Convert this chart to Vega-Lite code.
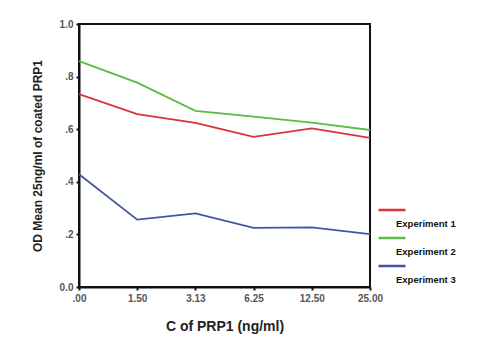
{
  "$schema": "https://vega.github.io/schema/vega-lite/v6.json",
  "autosize": "none",
  "width": 291,
  "height": 263,
  "padding": {"left": 79, "top": 24, "right": 118, "bottom": 56},
  "background": "white",
  "config": {
    "view": {"stroke": "#111", "strokeWidth": 2},
    "font": "Liberation Sans"
  },
  "data": {
    "values": [
      {"c": ".00", "od": 0.733, "exp": "Experiment 1"},
      {"c": "1.50", "od": 0.657, "exp": "Experiment 1"},
      {"c": "3.13", "od": 0.624, "exp": "Experiment 1"},
      {"c": "6.25", "od": 0.571, "exp": "Experiment 1"},
      {"c": "12.50", "od": 0.603, "exp": "Experiment 1"},
      {"c": "25.00", "od": 0.567, "exp": "Experiment 1"},
      {"c": ".00", "od": 0.859, "exp": "Experiment 2"},
      {"c": "1.50", "od": 0.777, "exp": "Experiment 2"},
      {"c": "3.13", "od": 0.670, "exp": "Experiment 2"},
      {"c": "6.25", "od": 0.648, "exp": "Experiment 2"},
      {"c": "12.50", "od": 0.625, "exp": "Experiment 2"},
      {"c": "25.00", "od": 0.597, "exp": "Experiment 2"},
      {"c": ".00", "od": 0.429, "exp": "Experiment 3"},
      {"c": "1.50", "od": 0.256, "exp": "Experiment 3"},
      {"c": "3.13", "od": 0.280, "exp": "Experiment 3"},
      {"c": "6.25", "od": 0.225, "exp": "Experiment 3"},
      {"c": "12.50", "od": 0.227, "exp": "Experiment 3"},
      {"c": "25.00", "od": 0.201, "exp": "Experiment 3"}
    ]
  },
  "mark": {"type": "line", "strokeWidth": 1.8},
  "encoding": {
    "x": {
      "field": "c",
      "type": "ordinal",
      "sort": [".00", "1.50", "3.13", "6.25", "12.50", "25.00"],
      "scale": {"type": "point", "padding": 0},
      "axis": {
        "title": "C of PRP1 (ng/ml)",
        "titleFont": "Liberation Sans",
        "titleFontSize": 14,
        "titleFontWeight": "bold",
        "titleColor": "#222",
        "titlePadding": 16,
        "labelAngle": 0,
        "labelFontSize": 10,
        "labelFontWeight": "bold",
        "labelColor": "#555",
        "labelPadding": 3,
        "domainColor": "#111",
        "domainWidth": 2,
        "tickColor": "#111",
        "tickWidth": 2,
        "tickSize": 3,
        "grid": false
      }
    },
    "y": {
      "field": "od",
      "type": "quantitative",
      "scale": {"domain": [0, 1]},
      "axis": {
        "title": "OD Mean 25ng/ml of coated PRP1",
        "titleFont": "Liberation Sans",
        "titleFontSize": 12,
        "titleFontWeight": "bold",
        "titleColor": "#222",
        "titlePadding": 15,
        "values": [0, 0.2, 0.4, 0.6, 0.8, 1],
        "labelExpr": "datum.value == 0 ? '0.0' : datum.value == 1 ? '1.0' : replace(format(datum.value, '.1f'), '0.', '.')",
        "labelFontSize": 10,
        "labelFontWeight": "bold",
        "labelColor": "#555",
        "labelPadding": 3,
        "domainColor": "#111",
        "domainWidth": 2,
        "tickColor": "#111",
        "tickWidth": 2,
        "tickSize": 3,
        "grid": false
      }
    },
    "color": {
      "field": "exp",
      "type": "nominal",
      "scale": {
        "domain": ["Experiment 1", "Experiment 2", "Experiment 3"],
        "range": ["#d8343c", "#5cba45", "#4255a3"]
      },
      "legend": {
        "title": null,
        "orient": "none",
        "legendX": 298,
        "legendY": 181,
        "padding": 0,
        "symbolType": "stroke",
        "symbolSize": 729,
        "symbolStrokeWidth": 2.5,
        "rowPadding": 0,
        "clipHeight": 28,
        "labelFont": "Liberation Sans",
        "labelFontSize": 9.5,
        "labelFontWeight": "bold",
        "labelColor": "#111",
        "labelOffset": -11,
        "encode": {
          "symbols": {"update": {"y": {"value": 5}}},
          "labels": {"update": {"y": {"value": 19}}}
        }
      }
    }
  }
}
